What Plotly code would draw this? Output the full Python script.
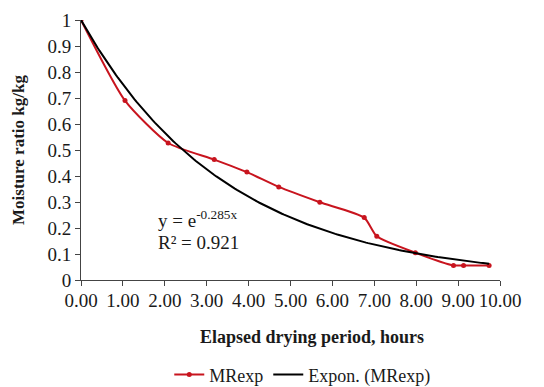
import numpy as np
import plotly.graph_objects as go

hours = [0.0, 1.05, 2.08, 3.18, 3.96, 4.72, 5.70, 6.76, 7.06, 7.98, 8.89, 9.13, 9.74]
mr_exp = [1.0, 0.69, 0.527, 0.463, 0.415, 0.358, 0.299, 0.240, 0.168, 0.105, 0.056, 0.056, 0.056]
fit_k = 0.285
x_ticks = [0, 1, 2, 3, 4, 5, 6, 7, 8, 9, 10]
x_tick_text = ["0.00", "1.00", "2.00", "3.00", "4.00", "5.00", "6.00", "7.00", "8.00", "9.00", "10.00"]
y_ticks = [0, 0.1, 0.2, 0.3, 0.4, 0.5, 0.6, 0.7, 0.8, 0.9, 1.0]
y_tick_text = ["0", "0.1", "0.2", "0.3", "0.4", "0.5", "0.6", "0.7", "0.8", "0.9", "1"]

fit_x = np.linspace(hours[0], hours[-1], 200)
fit_y = np.exp(-fit_k * fit_x)

FONT = "Liberation Serif, Times New Roman, serif"
RED = "#C8141E"

fig = go.Figure()
fig.add_trace(go.Scatter(x=hours, y=mr_exp, mode="lines+markers", name="MRexp",
                         line=dict(color=RED, width=2, shape="spline", smoothing=0.6),
                         marker=dict(color=RED, size=5)))
fig.add_trace(go.Scatter(x=fit_x, y=fit_y, mode="lines", name="Expon. (MRexp)",
                         line=dict(color="black", width=2)))

# page body has an 8px default margin, so the figure is sized/offset accordingly
fig.update_layout(
    width=536, height=379,
    margin=dict(l=73, r=44, t=12, b=107, autoexpand=False),
    paper_bgcolor="white", plot_bgcolor="white",
    font=dict(family=FONT, size=19, color="#1a1a1a"),
    showlegend=True,
    legend=dict(orientation="h", x=0.549, xanchor="center", xref="container",
                y=0.032, yanchor="middle", yref="container",
                font=dict(size=18), itemwidth=30, tracegroupgap=0),
    xaxis=dict(range=[0, 10], tickvals=x_ticks, ticktext=x_tick_text,
               showgrid=False, zeroline=False, showline=True, linecolor="#444", linewidth=1,
               ticks="outside", ticklen=5, tickcolor="#444", automargin=False,
               ticklabelstandoff=-2),
    yaxis=dict(range=[0, 1], tickvals=y_ticks, ticktext=y_tick_text,
               showgrid=False, zeroline=False, showline=True, linecolor="#444", linewidth=1,
               ticks="outside", ticklen=5, tickcolor="#444", automargin=False,
               title=dict(text="<b>Moisture ratio kg/kg</b>", font=dict(size=17), standoff=18)),
    annotations=[
        dict(text="<b>Elapsed drying period, hours</b>", xref="paper", yref="paper",
             x=0.551, y=-0.219, xanchor="center", yanchor="middle", showarrow=False,
             font=dict(size=18)),
        dict(text="y = e<sup>-0.285x</sup>", xref="x", yref="y", x=1.8, y=0.236,
             xanchor="left", yanchor="middle", showarrow=False, font=dict(size=19)),
        dict(text="R² = 0.921", xref="x", yref="y", x=1.8, y=0.145,
             xanchor="left", yanchor="middle", showarrow=False, font=dict(size=19)),
    ],
)

fig.write_html("out.html")
